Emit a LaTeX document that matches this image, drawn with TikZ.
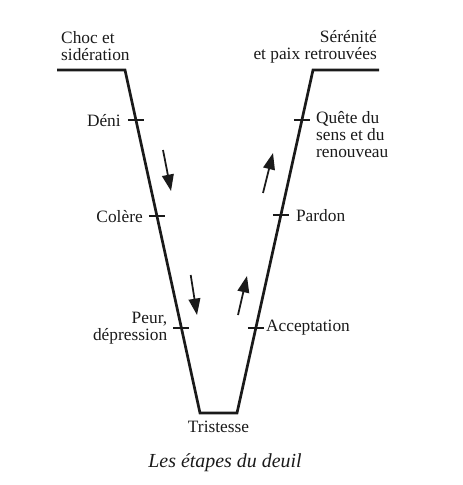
\documentclass[tikz,border=0pt]{standalone}
\usepackage{fontspec}
\setmainfont{Liberation Serif}
\usepackage{tikz}
\usetikzlibrary{arrows.meta,positioning,calc}
\definecolor{cInk}{HTML}{1A1A1A}
\tikzset{
  vline/.style={draw=cInk,line width=2.3pt,line join=miter},
  tk/.style={draw=cInk,line width=2.2pt},
  arr/.style={-{Triangle[length=14pt,width=10pt]},line width=1.5pt,color=cInk},
  lbl/.style={font=\fontsize{14.8}{14.5}\selectfont,text=cInk,inner sep=0pt},
  legend/.style={font=\fontsize{17}{19}\selectfont\itshape,text=cInk,inner sep=0pt},
}

\begin{document}
\begin{tikzpicture}[x=0.03cm,y=-0.03cm]
        \useasboundingbox (0,0) rectangle (462,485);
        \coordinate (startL) at (57,70);
        \coordinate (topL) at (125,70);
        \coordinate (botL) at (200,413);
        \coordinate (botR) at (237,413);
        \coordinate (topR) at (313,70);
        \coordinate (endR) at (379,70);
        \coordinate (botM) at ($(botL)!0.5!(botR)$);
        \draw[vline] (startL) -- (topL) -- (botL) -- (botR) -- (topR) -- (endR);
        \coordinate (deni) at ($(topL)!0.146!(botL)$);
        \coordinate (colere) at ($(topL)!0.426!(botL)$);
        \coordinate (peur) at ($(topL)!0.752!(botL)$);
        \coordinate (acceptation) at ($(botR)!0.248!(topR)$);
        \coordinate (pardon) at ($(botR)!0.577!(topR)$);
        \coordinate (quete) at ($(botR)!0.854!(topR)$);
        \foreach \p in {deni,colere,peur,acceptation,pardon,quete}
          \draw[tk] (\p) +(-8,0) -- +(8,0);
        \node[lbl,anchor=south west,align=left] (choc) at ($(startL)+(4,-9)$) {Choc et\\sidération};
        \node[lbl,anchor=south east,align=right] (serenite) at ($(endR)+(-2,-7)$) {Sérénité\\et paix retrouvées};
        \node[lbl,left=0.45cm of deni] (tDeni) {Déni};
        \node[lbl,left=0.42cm of colere] (tColere) {Colère};
        \node[lbl,left=0.42cm of peur,align=right] (tPeur) {Peur,\\dépression};
        \node[lbl,right=0.3cm of acceptation] (tAcceptation) {Acceptation};
        \node[lbl,right=0.45cm of pardon] (tPardon) {Pardon};
        \node[lbl,right=0.42cm of quete,yshift=-0.435cm,align=left] (tQuete) {Quête du\\sens et du\\renouveau};
        \node[lbl,below=0.22cm of botM] (tTristesse) {Tristesse};
        \node[legend,anchor=base] (titre) at (225,467) {Les étapes du deuil};
        \coordinate (a1s) at (163,150);
        \coordinate (a1e) at (171,191);
        \coordinate (a2s) at (190.7,275);
        \coordinate (a2e) at (197,315);
        \coordinate (a3s) at (263,193);
        \coordinate (a3e) at (273,153);
        \coordinate (a4s) at (238,315);
        \coordinate (a4e) at (247,276);
        \foreach \s/\e in {a1s/a1e,a2s/a2e,a3s/a3e,a4s/a4e}
          \draw[arr] (\s) -- (\e);
      \end{tikzpicture}
\end{document}
